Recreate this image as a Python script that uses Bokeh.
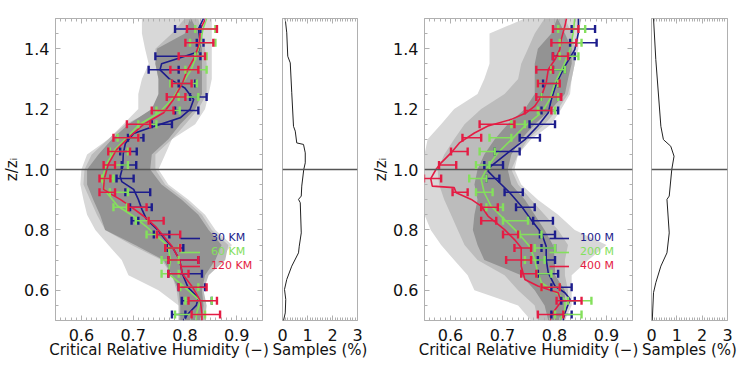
from bokeh.plotting import figure
from bokeh.layouts import row
from bokeh.models import (Range1d, LinearAxis, FixedTicker, Whisker, ColumnDataSource,
                          Span, Legend, LegendItem, TeeHead, PrintfTickFormatter)
from bokeh.embed import file_html
from bokeh.resources import INLINE

# ---------------- data ----------------
levels = [0.52, 0.565, 0.61, 0.655, 0.70, 0.74, 0.785, 0.83, 0.875, 0.925, 0.97,
          1.015, 1.06, 1.105, 1.15, 1.195, 1.24, 1.285, 1.33, 1.375, 1.42, 1.465]

# left panel (30 / 60 / 120 KM): error bar ends
km30_lo = [0.775, 0.794, 0.788, 0.768, 0.768, 0.765, 0.740, 0.697, 0.694, 0.685, 0.668,
           0.678, 0.675, 0.690, 0.736, 0.781, 0.810, 0.788, 0.730, 0.743, 0.823, 0.781]
km30_hi = [0.801, 0.852, 0.839, 0.833, 0.826, 0.797, 0.770, 0.710, 0.736, 0.733, 0.701,
           0.706, 0.707, 0.720, 0.775, 0.826, 0.842, 0.820, 0.788, 0.830, 0.836, 0.830]
km60_lo = [0.781, 0.801, 0.791, 0.755, 0.755, 0.762, 0.726, 0.705, 0.662, 0.655, 0.640,
           0.665, 0.655, 0.670, 0.710, 0.745, 0.788, 0.772, 0.801, 0.820, 0.810, 0.820]
km60_hi = [0.839, 0.852, 0.826, 0.788, 0.788, 0.790, 0.746, 0.730, 0.688, 0.690, 0.662,
           0.690, 0.690, 0.710, 0.745, 0.790, 0.826, 0.823, 0.842, 0.842, 0.859, 0.859]
km120_lo = [0.813, 0.807, 0.788, 0.768, 0.768, 0.762, 0.746, 0.730, 0.691, 0.635, 0.635,
            0.643, 0.652, 0.662, 0.688, 0.736, 0.765, 0.775, 0.772, 0.788, 0.801, 0.804]
km120_hi = [0.868, 0.862, 0.842, 0.807, 0.826, 0.791, 0.791, 0.759, 0.726, 0.665, 0.656,
            0.665, 0.694, 0.710, 0.733, 0.778, 0.801, 0.813, 0.826, 0.839, 0.855, 0.862]

# right panel (100 / 200 / 400 M)
m100_lo = [0.794, 0.813, 0.794, 0.768, 0.768, 0.775, 0.772, 0.759, 0.726, 0.704, 0.669,
           0.665, 0.685, 0.733, 0.752, 0.775, 0.775, 0.778, 0.797, 0.797, 0.830, 0.833]
m100_hi = [0.833, 0.839, 0.833, 0.807, 0.801, 0.801, 0.801, 0.797, 0.762, 0.739, 0.694,
           0.701, 0.733, 0.772, 0.801, 0.807, 0.807, 0.807, 0.820, 0.839, 0.881, 0.878]
m200_lo = [0.801, 0.826, 0.775, 0.765, 0.743, 0.762, 0.733, 0.701, 0.669, 0.649, 0.636,
           0.649, 0.656, 0.675, 0.717, 0.768, 0.775, 0.768, 0.794, 0.810, 0.810, 0.807]
m200_hi = [0.852, 0.871, 0.810, 0.794, 0.781, 0.801, 0.775, 0.749, 0.701, 0.681, 0.669,
           0.675, 0.685, 0.717, 0.743, 0.801, 0.807, 0.807, 0.820, 0.846, 0.852, 0.859]
m400_lo = [0.768, 0.804, 0.775, 0.736, 0.707, 0.723, 0.701, 0.659, 0.659, 0.604, 0.549,
           0.578, 0.601, 0.623, 0.656, 0.743, 0.765, 0.768, 0.765, 0.797, 0.794, 0.797]
m400_hi = [0.817, 0.852, 0.810, 0.765, 0.755, 0.755, 0.730, 0.688, 0.691, 0.633, 0.582,
           0.611, 0.633, 0.659, 0.723, 0.794, 0.813, 0.810, 0.797, 0.826, 0.842, 0.846]

# mean profiles
km30_z = [0.5, 0.52, 0.55, 0.575, 0.61, 0.655, 0.70, 0.74, 0.768, 0.802, 0.835, 0.868,
          0.901, 0.934, 0.96, 0.977, 1.01, 1.053, 1.086, 1.119, 1.142, 1.171, 1.199, 1.232,
          1.27, 1.30, 1.33, 1.35, 1.375, 1.39, 1.42, 1.465, 1.5]
km30_line = [0.797, 0.805, 0.822, 0.826, 0.806, 0.795, 0.790, 0.777, 0.762, 0.746, 0.726,
             0.717, 0.710, 0.701, 0.678, 0.675, 0.680, 0.681, 0.685, 0.701, 0.739, 0.791,
             0.810, 0.817, 0.800, 0.770, 0.752, 0.755, 0.800, 0.826, 0.830, 0.826, 0.836]
km_z = [0.5, 0.52, 0.565, 0.61, 0.655, 0.70, 0.746, 0.779, 0.812, 0.846, 0.879, 0.901,
        0.917, 0.934, 0.967, 1.017, 1.066, 1.110, 1.149, 1.188, 1.232, 1.285, 1.33, 1.375,
        1.42, 1.465, 1.5]
km60_line = [0.822, 0.822, 0.830, 0.800, 0.768, 0.772, 0.768, 0.746, 0.725, 0.700, 0.670,
             0.660, 0.652, 0.645, 0.640, 0.648, 0.665, 0.690, 0.712, 0.750, 0.775, 0.795,
             0.812, 0.822, 0.830, 0.835, 0.842]
km120_line = [0.833, 0.833, 0.830, 0.815, 0.795, 0.790, 0.775, 0.759, 0.743, 0.720, 0.694,
              0.675, 0.659, 0.643, 0.644, 0.652, 0.668, 0.694, 0.720, 0.759, 0.778, 0.795,
              0.805, 0.820, 0.828, 0.830, 0.840]

m100_z = [0.5, 0.525, 0.570, 0.592, 0.614, 0.658, 0.702, 0.746, 0.790, 0.834, 0.879, 0.923,
          0.967, 0.9945, 1.011, 1.055, 1.099, 1.144, 1.188, 1.232, 1.287, 1.342, 1.397,
          1.453, 1.5]
m100_line = [0.817, 0.820, 0.830, 0.820, 0.801, 0.788, 0.784, 0.784, 0.775, 0.755, 0.736,
             0.714, 0.688, 0.672, 0.678, 0.710, 0.743, 0.768, 0.788, 0.794, 0.804, 0.820,
             0.839, 0.846, 0.846]
m200_z = [0.5, 0.536, 0.570, 0.603, 0.625, 0.658, 0.702, 0.746, 0.790, 0.834, 0.879, 0.923,
          0.967, 1.011, 1.055, 1.099, 1.144, 1.188, 1.232, 1.287, 1.342, 1.397, 1.453, 1.5]
m200_line = [0.810, 0.820, 0.820, 0.794, 0.775, 0.768, 0.762, 0.752, 0.730, 0.704, 0.678,
             0.665, 0.659, 0.672, 0.691, 0.717, 0.743, 0.775, 0.791, 0.801, 0.817, 0.830,
             0.836, 0.839]
m400_z = [0.5, 0.519, 0.563, 0.592, 0.614, 0.636, 0.680, 0.741, 0.768, 0.801, 0.846, 0.879,
          0.901, 0.923, 0.940, 0.945, 0.970, 1.0, 1.022, 1.055, 1.088, 1.121, 1.144, 1.166,
          1.188, 1.210, 1.243, 1.287, 1.331, 1.364, 1.397, 1.431, 1.475, 1.5]
m400_line = [0.791, 0.794, 0.813, 0.807, 0.768, 0.743, 0.736, 0.736, 0.723, 0.704, 0.672,
             0.659, 0.640, 0.611, 0.607, 0.565, 0.562, 0.572, 0.582, 0.601, 0.617, 0.646,
             0.672, 0.717, 0.746, 0.762, 0.775, 0.784, 0.788, 0.801, 0.810, 0.813, 0.820,
             0.823]

# spread envelopes (light / medium / dark grey), on a common height grid
shade_z = [0.5, 0.55, 0.6, 0.65, 0.7, 0.75, 0.8, 0.85, 0.9, 0.95, 1.0,
           1.05, 1.1, 1.15, 1.2, 1.25, 1.3, 1.35, 1.4, 1.45, 1.5]
L_light_lo = [0.788, 0.788, 0.749, 0.691, 0.678, 0.652, 0.627, 0.611, 0.604, 0.598, 0.600,
              0.611, 0.652, 0.681, 0.710, 0.710, 0.717, 0.730, 0.723, 0.717, 0.717]
L_light_hi = [0.839, 0.839, 0.826, 0.839, 0.865, 0.891, 0.859, 0.839, 0.807, 0.768, 0.749,
              0.762, 0.775, 0.820, 0.839, 0.846, 0.852, 0.852, 0.852, 0.852, 0.852]
L_mid_lo = [0.788, 0.788, 0.784, 0.775, 0.755, 0.697, 0.646, 0.630, 0.617, 0.604, 0.606,
            0.620, 0.652, 0.685, 0.743, 0.749, 0.749, 0.743, 0.743, 0.775, 0.800]
L_mid_hi = [0.839, 0.842, 0.836, 0.846, 0.878, 0.884, 0.852, 0.833, 0.801, 0.762, 0.743,
            0.743, 0.775, 0.801, 0.826, 0.842, 0.842, 0.842, 0.839, 0.833, 0.826]
L_dark_lo = [0.791, 0.791, 0.788, 0.775, 0.759, 0.704, 0.646, 0.636, 0.623, 0.611, 0.611,
             0.633, 0.659, 0.691, 0.736, 0.749, 0.749, 0.743, 0.746, 0.800, 0.810]
L_dark_hi = [0.833, 0.836, 0.833, 0.839, 0.859, 0.871, 0.846, 0.826, 0.794, 0.755, 0.733,
             0.736, 0.768, 0.791, 0.820, 0.833, 0.833, 0.833, 0.833, 0.826, 0.812]

R_light_lo = [0.755, 0.730, 0.646, 0.633, 0.607, 0.582, 0.562, 0.550, 0.550, 0.550, 0.550,
              0.550, 0.556, 0.582, 0.607, 0.652, 0.665, 0.675, 0.675, 0.675, 0.743]
R_light_hi = [0.820, 0.833, 0.833, 0.833, 0.865, 0.900, 0.839, 0.807, 0.768, 0.736, 0.723,
              0.730, 0.755, 0.794, 0.813, 0.830, 0.833, 0.839, 0.846, 0.846, 0.852]
R_mid_lo = [0.768, 0.762, 0.730, 0.704, 0.652, 0.627, 0.614, 0.601, 0.588, 0.578, 0.575,
            0.588, 0.607, 0.627, 0.659, 0.704, 0.730, 0.736, 0.749, 0.762, 0.781]
R_mid_hi = [0.820, 0.826, 0.826, 0.820, 0.820, 0.826, 0.807, 0.781, 0.755, 0.730, 0.717,
            0.730, 0.749, 0.781, 0.807, 0.826, 0.833, 0.839, 0.839, 0.833, 0.820]
R_dark_lo = [0.788, 0.781, 0.762, 0.736, 0.665, 0.652, 0.643, 0.646, 0.652, 0.646, 0.652,
             0.665, 0.685, 0.710, 0.743, 0.762, 0.762, 0.762, 0.768, 0.794, 0.805]
R_dark_hi = [0.813, 0.820, 0.820, 0.801, 0.801, 0.797, 0.781, 0.762, 0.743, 0.717, 0.710,
             0.717, 0.736, 0.762, 0.794, 0.820, 0.826, 0.833, 0.833, 0.820, 0.806]

# sample fraction profiles (%)
L_samp_z = [0.5, 0.525, 0.57, 0.603, 0.636, 0.68, 0.724, 0.746, 0.79, 0.89, 0.901, 0.912,
            0.945, 1.0, 1.022, 1.055, 1.083, 1.088, 1.127, 1.143, 1.254, 1.353, 1.375, 1.4525, 1.5]
L_samp = [0.04, 0.11, 0.13, 0.08, 0.17, 0.37, 0.64, 0.67, 0.75, 0.71, 0.64, 0.75,
          0.77, 0.85, 0.91, 0.91, 0.84, 0.57, 0.51, 0.44, 0.37, 0.31, 0.21, 0.17, 0.107]
R_samp_z = [0.5, 0.592, 0.625, 0.68, 0.724, 0.79, 0.901, 0.912, 1.0, 1.044, 1.077, 1.099,
            1.143, 1.364, 1.5]
R_samp = [0.03, 0.08, 0.17, 0.37, 0.61, 0.70, 0.61, 0.70, 0.80, 0.89, 0.76, 0.47,
          0.37, 0.17, 0.08]

x_ticks = [0.6, 0.7, 0.8, 0.9]
y_ticks = [0.6, 0.8, 1.0, 1.2, 1.4]
s_ticks = [0, 1, 2, 3]
left_names = ["30 KM", "60 KM", "120 KM"]
right_names = ["100 M", "200 M", "400 M"]
x_title = "Critical Relative Humidity (\u2212)"
y_title = "z/z\u1d62"
s_title = "Samples (%)"

# ---------------- style ----------------
FONT = "DejaVu Sans"
FRAME = "#b0b0b0"
C_BLUE = "#1c1c8c"
C_GREEN = "#84e05c"
C_RED = "#e41c44"
C_LIGHT = "#d8d8d8"
C_MID = "#bcbcbc"
C_DARK = "#939393"
TOP, FH, BOT = 18, 302, 42
TXT = "15px"


def tick_axis(ax, ticks, minor, labels, fmt):
    ax.ticker = FixedTicker(ticks=ticks, minor_ticks=minor)
    ax.axis_line_color = None
    ax.major_tick_line_color = FRAME
    ax.minor_tick_line_color = FRAME
    ax.major_tick_in = 5
    ax.major_tick_out = 0
    ax.minor_tick_in = 3
    ax.minor_tick_out = 0
    ax.formatter = PrintfTickFormatter(format=fmt)
    if labels:
        ax.major_label_text_font = FONT
        ax.major_label_text_font_size = "16px"
        ax.major_label_text_color = "#111111"
    else:
        ax.major_label_text_font_size = "1px"
        ax.major_label_text_color = None
        ax.major_label_standoff = 0


def set_title(ax, text, standoff):
    ax.axis_label = text
    ax.axis_label_text_font = FONT
    ax.axis_label_text_font_size = TXT
    ax.axis_label_text_font_style = "normal"
    ax.axis_label_text_color = "#111111"
    ax.axis_label_standoff = standoff


def base_fig(xr, bl, fw, br):
    p = figure(x_range=xr, y_range=Range1d(0.5, 1.5), frame_width=fw, frame_height=FH,
               min_border_left=bl, min_border_right=br, min_border_top=TOP,
               min_border_bottom=BOT, output_backend="svg", toolbar_location=None,
               x_axis_location=None, y_axis_location=None)
    p.grid.visible = False
    p.outline_line_color = FRAME
    p.outline_line_width = 1
    p.background_fill_color = "white"
    p.border_fill_color = "white"
    return p


def main_fig(bl, fw, br, lines, bars, names, shades):
    xminor = [round(0.55 + 0.01 * i, 3) for i in range(41)]
    yminor = [round(0.5 + 0.05 * i, 3) for i in range(21)]
    p = base_fig(Range1d(0.55, 0.95), bl, fw, br)
    below = LinearAxis()
    tick_axis(below, x_ticks, xminor, True, "%.1f")
    below.major_label_standoff = 8
    set_title(below, x_title, -3)
    p.add_layout(below, "below")
    above = LinearAxis()
    tick_axis(above, x_ticks, xminor, False, "%.1f")
    p.add_layout(above, "above")
    left = LinearAxis()
    tick_axis(left, y_ticks, yminor, True, "%.1f")
    left.major_label_standoff = 6
    set_title(left, y_title, 0)
    p.add_layout(left, "left")
    right = LinearAxis()
    tick_axis(right, y_ticks, yminor, False, "%.1f")
    p.add_layout(right, "right")

    for (lo, hi), col in zip(shades, [C_LIGHT, C_MID, C_DARK]):
        p.patch(list(lo) + list(hi)[::-1], shade_z + shade_z[::-1],
                fill_color=col, line_color=None)

    colors = [C_BLUE, C_GREEN, C_RED]
    rends = []
    for (lx, lz), col in zip(lines, colors):
        rends.append(p.line(lx, lz, line_color=col, line_width=1.6))
    for (lo, hi), col in zip(bars, colors):
        src = ColumnDataSource(dict(z=levels, lo=lo, hi=hi))
        w = Whisker(base="z", lower="lo", upper="hi", source=src, dimension="width",
                    line_color=col, line_width=1.5, level="overlay",
                    lower_head=TeeHead(size=8, line_color=col, line_width=2.4),
                    upper_head=TeeHead(size=8, line_color=col, line_width=2.4))
        p.add_layout(w)
    p.add_layout(Span(location=1.0, dimension="width", line_color="#555555", line_width=1.5))

    for i, (r, nm, col) in enumerate(zip(rends, names, colors)):
        leg = Legend(items=[LegendItem(label=nm, renderers=[r])],
                     location=(125, 76 - 14 * i), orientation="vertical",
                     padding=0, margin=0, spacing=0, glyph_width=20, glyph_height=12,
                     label_standoff=11, label_height=12, border_line_color=None,
                     background_fill_alpha=0, label_text_color=col,
                     label_text_font=FONT, label_text_font_size="11px")
        p.add_layout(leg)
    return p


def samp_fig(bl, fw, br, sx, sz):
    sminor = [round(0.1 * i, 2) for i in range(31)]
    p = base_fig(Range1d(0, 3), bl, fw, br)
    below = LinearAxis()
    tick_axis(below, s_ticks, sminor, True, "%d")
    below.major_label_standoff = 8
    set_title(below, s_title, -3)
    p.add_layout(below, "below")
    above = LinearAxis()
    tick_axis(above, s_ticks, sminor, False, "%d")
    p.add_layout(above, "above")
    p.line(sx, sz, line_color="#222222", line_width=1)
    p.add_layout(Span(location=1.0, dimension="width", line_color="#555555", line_width=1.5))
    return p


pA = main_fig(53, 207, 9, [(km30_line, km30_z), (km60_line, km_z), (km120_line, km_z)],
              [(km30_lo, km30_hi), (km60_lo, km60_hi), (km120_lo, km120_hi)], left_names,
              [(L_light_lo, L_light_hi), (L_mid_lo, L_mid_hi), (L_dark_lo, L_dark_hi)])
pB = samp_fig(11, 75, 12, L_samp, L_samp_z)
pC = main_fig(51, 208, 8, [(m100_line, m100_z), (m200_line, m200_z), (m400_line, m400_z)],
              [(m100_lo, m100_hi), (m200_lo, m200_hi), (m400_lo, m400_hi)], right_names,
              [(R_light_lo, R_light_hi), (R_mid_lo, R_mid_hi), (R_dark_lo, R_dark_hi)])
pD = samp_fig(11, 76, 18, R_samp, R_samp_z)

layout = row(pA, pB, pC, pD, spacing=0)
open("out.html", "w").write(file_html(layout, INLINE))
